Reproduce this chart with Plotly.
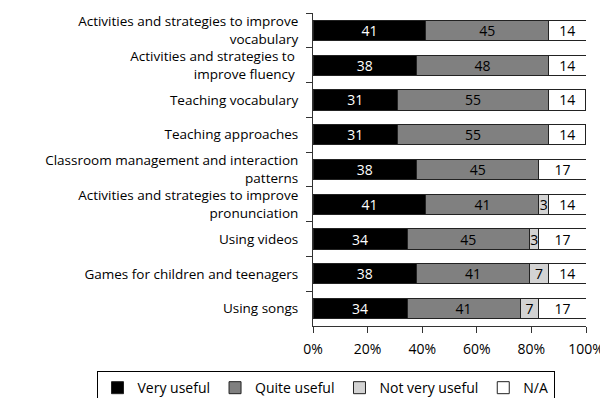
import plotly.graph_objects as go

# percentages of respondents (n=29), shown rounded in the bars
topics = [
    "Activities and strategies to improve<br>vocabulary",
    "Activities and strategies to <br>improve fluency ",
    "Teaching vocabulary",
    "Teaching approaches",
    "Classroom management and interaction<br>patterns",
    "Activities and strategies to improve<br>pronunciation",
    "Using videos",
    "Games for children and teenagers",
    "Using songs",
]
very_useful = [41.38, 37.93, 31.03, 31.03, 37.93, 41.38, 34.48, 37.93, 34.48]
quite_useful = [44.83, 48.28, 55.17, 55.17, 44.83, 41.38, 44.83, 41.38, 41.38]
not_very_useful = [None, None, None, None, None, 3.45, 3.45, 6.90, 6.90]
not_applicable = [13.79, 13.79, 13.79, 13.79, 17.24, 13.79, 17.24, 13.79, 17.24]

pct_ticks = [0, 20, 40, 60, 80, 100]
pct_labels = ["0%", "20%", "40%", "60%", "80%", "100%"]

series = [
    ("Very useful", very_useful, "#000000", "white"),
    ("Quite useful", quite_useful, "#808080", "black"),
    ("Not very useful", not_very_useful, "#d3d3d3", "black"),
    ("N/A", not_applicable, "#ffffff", "black"),
]

FONT = "Open Sans"


def main():
    fig = go.Figure()
    for name, vals, color, txtcolor in series:
        fig.add_trace(go.Bar(
            y=topics, x=vals, name=name, orientation="h",
            marker=dict(color=color, line=dict(color="#222222", width=1)),
            texttemplate="%{x:.0f}", textposition="inside", textangle=0,
            insidetextanchor="middle", constraintext="none",
            textfont=dict(color=txtcolor, size=14, family=FONT),
        ))

    # page body has an 8px margin, so the figure is a bit smaller than the window
    fig.update_layout(
        template="none",
        barmode="stack",
        bargap=0.42,
        width=600, height=390,
        margin=dict(l=305, r=22, t=5, b=72, autoexpand=False),
        plot_bgcolor="white", paper_bgcolor="white",
        font=dict(family=FONT, size=14, color="black"),
        uniformtext=dict(minsize=14, mode="show"),
        showlegend=True,
        legend=dict(
            orientation="h", x=-0.793, xanchor="left", y=-0.144, yanchor="top",
            bordercolor="black", borderwidth=1, font=dict(size=14),
            itemwidth=30, traceorder="normal", bgcolor="white",
        ),
        xaxis=dict(
            range=[0, 100], tickvals=pct_ticks, ticktext=pct_labels,
            showgrid=False, zeroline=False, showline=True, linecolor="#333333",
            ticks="outside", ticklen=6, tickcolor="#333333", automargin=False,
            ticklabelstandoff=4,
        ),
        yaxis=dict(
            autorange="reversed", showgrid=False, showline=True, zeroline=False,
            linecolor="#333333", ticks="outside", ticklen=6, tickcolor="#333333",
            tickson="boundaries", ticklabelstandoff=11, automargin=False,
            tickfont=dict(size=13.5),
        ),
    )
    fig.write_html("out.html")


if __name__ == "__main__":
    main()
